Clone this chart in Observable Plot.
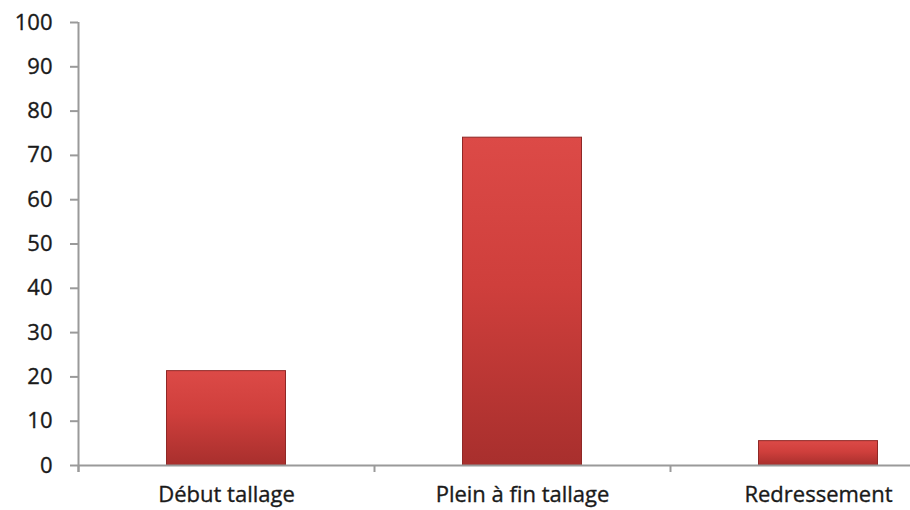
<!DOCTYPE html>
<html>
<head>
<meta charset="utf-8">
<script src="https://cdn.jsdelivr.net/npm/d3@7"></script>
<script src="https://cdn.jsdelivr.net/npm/@observablehq/plot@0.6"></script>
<style>
  body { margin: 0; background: #fff; }
  svg { display: block; }
  #chart svg text { stroke: #1a1a1a; stroke-width: 0.35px; }
</style>
</head>
<body>
<svg width="0" height="0" style="position:absolute">
  <defs>
    <linearGradient id="barGrad" x1="0" y1="0" x2="0" y2="1">
      <stop offset="0%" stop-color="#dc4a47"/>
      <stop offset="45%" stop-color="#cf3f3c"/>
      <stop offset="100%" stop-color="#a82f2d"/>
    </linearGradient>
  </defs>
</svg>
<div id="chart"></div>
<script>
const categories = ["Début tallage", "Plein à fin tallage", "Redressement"];
const values = [21.3, 74, 5.5];
const yTicks = [0, 10, 20, 30, 40, 50, 60, 70, 80, 90, 100];

const data = categories.map((c, i) => ({category: c, value: values[i]}));

const chart = Plot.plot({
  width: 910,
  height: 510,
  marginLeft: 78,
  marginRight: 0,
  marginTop: 22,
  marginBottom: 45,
  style: {fontFamily: "'Open Sans', sans-serif", fontSize: "22px", color: "#222", background: "#fff"},
  x: {domain: categories, range: [78, 966], padding: 0, label: null},
  y: {domain: [0, 100], label: null},
  marks: [
    Plot.barY(data, {x: "category", y: "value", fill: "url(#barGrad)", stroke: "#8f2826", strokeWidth: 1, insetLeft: 88.5, insetRight: 88.5}),
    Plot.ruleY([0], {stroke: "#9a9a9a", strokeWidth: 2}),
    Plot.ruleX([0], {x: () => categories[0], dx: -148, y1: 100, y2: 0, insetBottom: -7, stroke: "#9a9a9a", strokeWidth: 2}),
    Plot.axisY({ticks: yTicks, tickSize: 8, tickPadding: 18, stroke: "#9a9a9a", strokeWidth: 2, fill: "#1a1a1a", label: null}),
    Plot.axisX({tickSize: 7, tickFormat: () => "", dx: -148, stroke: "#9a9a9a", strokeWidth: 2}),
    Plot.axisX({tickSize: 0, tickPadding: 21, fill: "#1a1a1a", label: null})
  ]
});
document.getElementById("chart").appendChild(chart);
</script>
</body>
</html>
